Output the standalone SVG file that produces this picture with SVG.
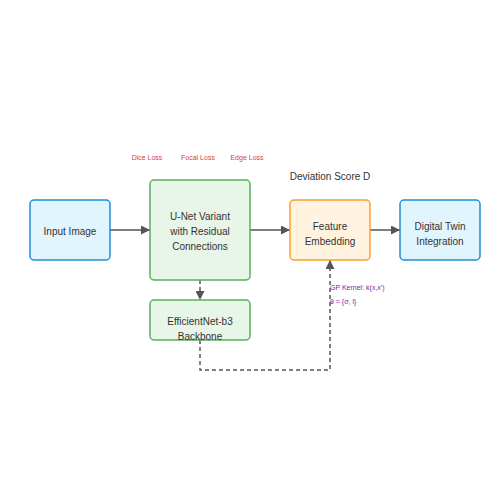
<svg xmlns="http://www.w3.org/2000/svg" width="500" height="500" viewBox="0 0 500 500">
<style>
.node rect{stroke-width:1.5}
.blue rect{fill:#e1f5fe;stroke:#1e8fd6}
.green rect{fill:#e8f5e9;stroke:#5aaf5e}
.orange rect{fill:#fff3e0;stroke:#f7a030}
.lbl{font-family:"Liberation Sans",Arial,sans-serif;font-size:10px;fill:#333;text-anchor:middle}
.loss{font-family:"Liberation Sans",Arial,sans-serif;font-size:7px;fill:#e53935;text-anchor:middle}
.gp{font-family:"Liberation Sans",Arial,sans-serif;font-size:7px;fill:#7b1fa2}
.edge{fill:none;stroke:#555;stroke-width:1.5}
.dash{stroke-dasharray:4 3}
</style>
<defs>
<marker id="arr" viewBox="0 0 10 10" refX="10" refY="5" markerWidth="6" markerHeight="6" orient="auto">
<path d="M0,0 L10,5 L0,10 z" fill="#555"/>
</marker>
</defs>
<rect width="500" height="500" fill="#fff"/>
<g id="connectors">
<path class="edge" d="M110,230 H150" marker-end="url(#arr)"/>
<path class="edge" d="M250,230 H290" marker-end="url(#arr)"/>
<path class="edge" d="M370,230 H400" marker-end="url(#arr)"/>
<path class="edge dash" d="M200,280 V300" marker-end="url(#arr)"/>
<path class="edge dash" d="M200,340 V370 H330 V260" marker-end="url(#arr)"/>
</g>
<g id="input" class="node blue">
<rect x="30" y="200" width="80" height="60" rx="4"/>
<text class="lbl" x="70" y="234.5">Input Image</text>
</g>
<g id="unet" class="node green">
<rect x="150" y="180" width="100" height="100" rx="4"/>
<text class="lbl" x="200" y="219.5">U-Net Variant</text>
<text class="lbl" x="200" y="234.5">with Residual</text>
<text class="lbl" x="200" y="249.5">Connections</text>
</g>
<g id="feature" class="node orange">
<rect x="290" y="200" width="80" height="60" rx="4"/>
<text class="lbl" x="330" y="229.5">Feature</text>
<text class="lbl" x="330" y="244.5">Embedding</text>
</g>
<g id="twin" class="node blue">
<rect x="400" y="200" width="80" height="60" rx="4"/>
<text class="lbl" x="440" y="229.5">Digital Twin</text>
<text class="lbl" x="440" y="244.5">Integration</text>
</g>
<g id="efficientnet" class="node green">
<rect x="150" y="300" width="100" height="40" rx="4"/>
<text class="lbl" x="200" y="324.5">EfficientNet-b3</text>
<text class="lbl" x="200" y="339.5">Backbone</text>
</g>
<g id="annotations">
<text class="loss" x="147" y="160">Dice Loss</text>
<text class="loss" x="198" y="160">Focal Loss</text>
<text class="loss" x="247" y="160">Edge Loss</text>
<text class="lbl" x="330" y="180">Deviation Score D</text>
<text class="gp" x="330" y="290">GP Kernel: k(x,x')</text>
<text class="gp" x="330" y="304">θ = {σ, l}</text>
</g>
</svg>
